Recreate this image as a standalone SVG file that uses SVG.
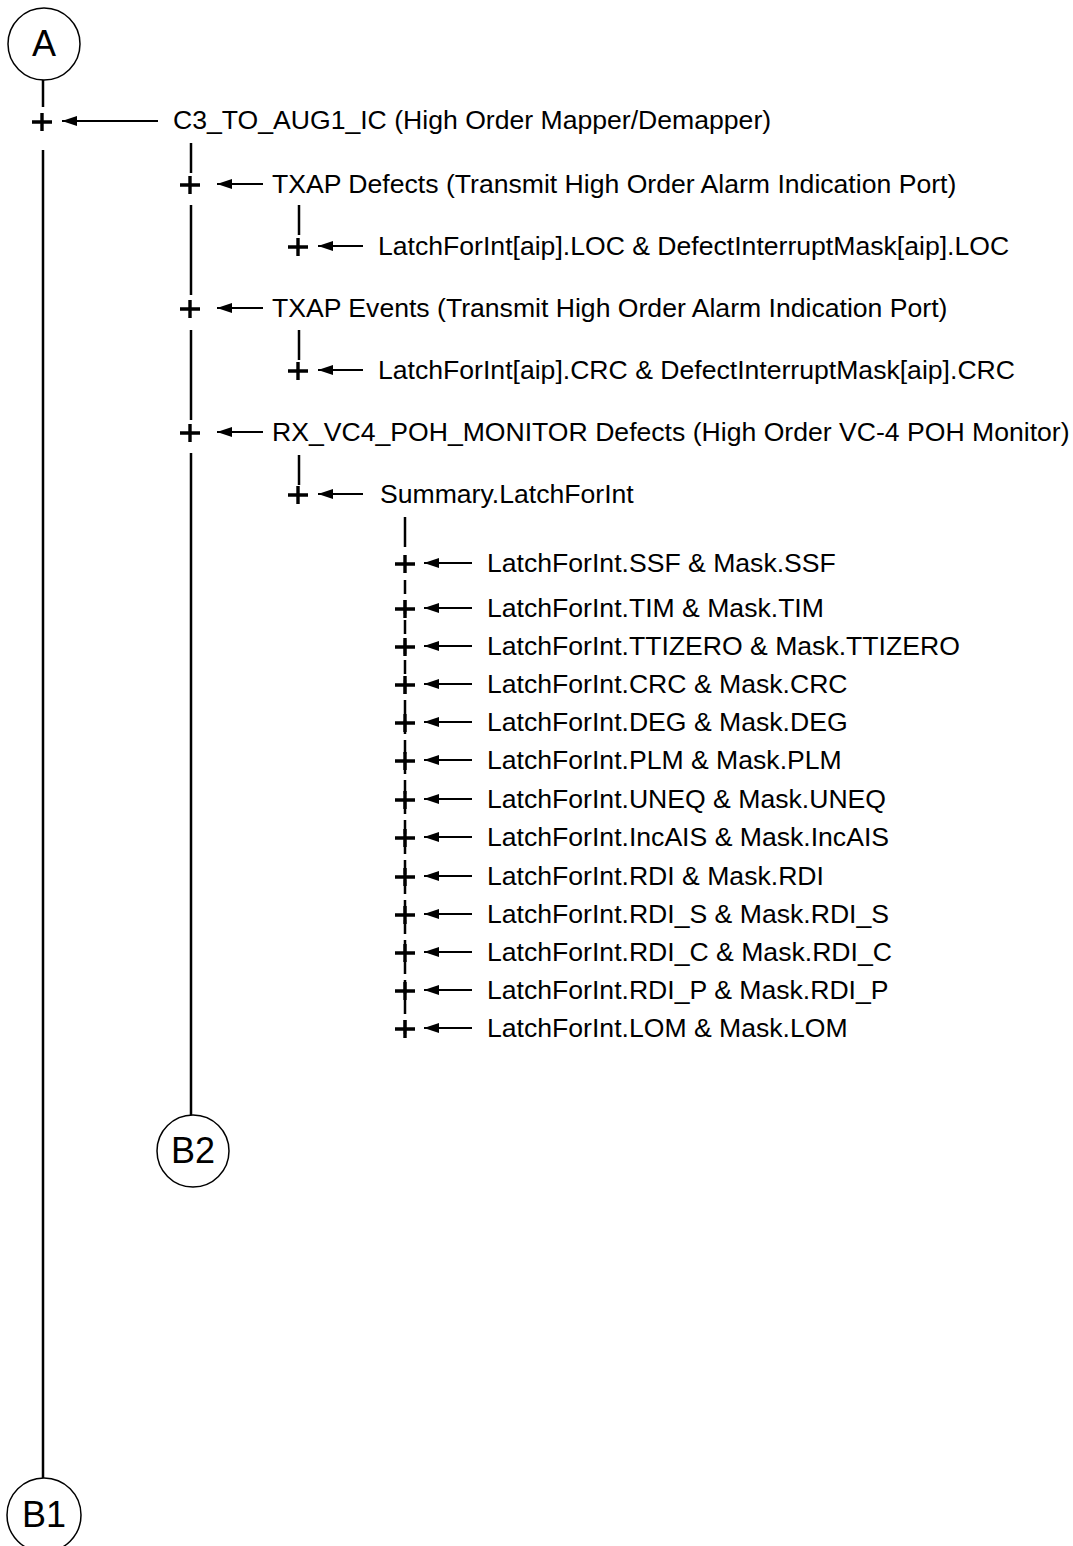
<svg xmlns="http://www.w3.org/2000/svg" width="1073" height="1546" viewBox="0 0 1073 1546">
<style>
.t{font-family:"Liberation Sans",Arial,sans-serif;font-size:26.6px;fill:#000}
.c{font-family:"Liberation Sans",Arial,sans-serif;font-size:36px;fill:#000;text-anchor:middle}
.ln{stroke:#000;stroke-width:2.5;fill:none}
.dl{stroke:#000;stroke-width:2.5;fill:none;stroke-dasharray:14 6}
.ar{stroke:#000;stroke-width:2;fill:none;marker-end:url(#ah)}
.circ{fill:#fff;stroke:#000;stroke-width:1.5}
</style>
<defs>
<marker id="ah" markerUnits="userSpaceOnUse" markerWidth="16" markerHeight="11" refX="15" refY="5" orient="auto">
<path d="M0,0 L15,5 L0,10 z" fill="#000"/>
</marker>
<path id="plus" d="M-10,0 H10 M0,-9 V9" stroke="#000" stroke-width="3.4" fill="none"/>
</defs>

<g id="connectors">
<line class="ln" x1="43" y1="80" x2="43" y2="107"/>
<line class="ln" x1="43" y1="150" x2="43" y2="1478"/>
<line class="ln" x1="191" y1="143" x2="191" y2="173"/>
<line class="ln" x1="191" y1="205" x2="191" y2="295"/>
<line class="ln" x1="191" y1="330" x2="191" y2="420"/>
<line class="ln" x1="191" y1="453" x2="191" y2="1115"/>
<line class="ln" x1="299" y1="205" x2="299" y2="235"/>
<line class="ln" x1="299" y1="330" x2="299" y2="360"/>
<line class="ln" x1="299" y1="455" x2="299" y2="485"/>
<line class="ln" x1="405" y1="517" x2="405" y2="547"/>
<line class="dl" x1="405" y1="580" x2="405" y2="1040"/>

<line class="ar" x1="158" y1="121" x2="62" y2="121"/>
<line class="ar" x1="263" y1="184" x2="217" y2="184"/>
<line class="ar" x1="363" y1="246" x2="318" y2="246"/>
<line class="ar" x1="263" y1="308" x2="217" y2="308"/>
<line class="ar" x1="363" y1="370" x2="318" y2="370"/>
<line class="ar" x1="263" y1="432" x2="217" y2="432"/>
<line class="ar" x1="363" y1="494" x2="318" y2="494"/>
<line class="ar" x1="472" y1="563" x2="424" y2="563"/>
<line class="ar" x1="472" y1="608" x2="424" y2="608"/>
<line class="ar" x1="472" y1="646" x2="424" y2="646"/>
<line class="ar" x1="472" y1="684" x2="424" y2="684"/>
<line class="ar" x1="472" y1="722" x2="424" y2="722"/>
<line class="ar" x1="472" y1="760" x2="424" y2="760"/>
<line class="ar" x1="472" y1="799" x2="424" y2="799"/>
<line class="ar" x1="472" y1="837" x2="424" y2="837"/>
<line class="ar" x1="472" y1="876" x2="424" y2="876"/>
<line class="ar" x1="472" y1="914" x2="424" y2="914"/>
<line class="ar" x1="472" y1="952" x2="424" y2="952"/>
<line class="ar" x1="472" y1="990" x2="424" y2="990"/>
<line class="ar" x1="472" y1="1028" x2="424" y2="1028"/>
</g>

<g id="node-A"><circle class="circ" cx="44" cy="44" r="36"/><text class="c" x="44" y="56">A</text></g>
<g id="node-B2"><circle class="circ" cx="193" cy="1151" r="36"/><text class="c" x="193" y="1163">B2</text></g>
<g id="node-B1"><circle class="circ" cx="44" cy="1515" r="37"/><text class="c" x="44" y="1527">B1</text></g>

<g id="node-c3"><use href="#plus" x="42" y="122"/><text class="t" x="173" y="129">C3_TO_AUG1_IC (High Order Mapper/Demapper)</text></g>
<g id="node-txap-def"><use href="#plus" x="190" y="185"/><text class="t" x="272" y="193">TXAP Defects (Transmit High Order Alarm Indication Port)</text></g>
<g id="node-loc"><use href="#plus" x="298" y="247"/><text class="t" x="378" y="255">LatchForInt[aip].LOC &amp; DefectInterruptMask[aip].LOC</text></g>
<g id="node-txap-ev"><use href="#plus" x="190" y="309"/><text class="t" x="272" y="317">TXAP Events (Transmit High Order Alarm Indication Port)</text></g>
<g id="node-crc-aip"><use href="#plus" x="298" y="371"/><text class="t" x="378" y="379">LatchForInt[aip].CRC &amp; DefectInterruptMask[aip].CRC</text></g>
<g id="node-rx"><use href="#plus" x="190" y="433"/><text class="t" x="272" y="441">RX_VC4_POH_MONITOR Defects (High Order VC-4 POH Monitor)</text></g>
<g id="node-summary"><use href="#plus" x="298" y="495"/><text class="t" x="380" y="503">Summary.LatchForInt</text></g>

<g id="node-ssf"><use href="#plus" x="405" y="564"/><text class="t" x="487" y="572">LatchForInt.SSF &amp; Mask.SSF</text></g>
<g id="node-tim"><use href="#plus" x="405" y="609"/><text class="t" x="487" y="617">LatchForInt.TIM &amp; Mask.TIM</text></g>
<g id="node-ttizero"><use href="#plus" x="405" y="647"/><text class="t" x="487" y="655">LatchForInt.TTIZERO &amp; Mask.TTIZERO</text></g>
<g id="node-crc"><use href="#plus" x="405" y="685"/><text class="t" x="487" y="693">LatchForInt.CRC &amp; Mask.CRC</text></g>
<g id="node-deg"><use href="#plus" x="405" y="723"/><text class="t" x="487" y="731">LatchForInt.DEG &amp; Mask.DEG</text></g>
<g id="node-plm"><use href="#plus" x="405" y="761"/><text class="t" x="487" y="769">LatchForInt.PLM &amp; Mask.PLM</text></g>
<g id="node-uneq"><use href="#plus" x="405" y="800"/><text class="t" x="487" y="808">LatchForInt.UNEQ &amp; Mask.UNEQ</text></g>
<g id="node-incais"><use href="#plus" x="405" y="838"/><text class="t" x="487" y="846">LatchForInt.IncAIS &amp; Mask.IncAIS</text></g>
<g id="node-rdi"><use href="#plus" x="405" y="877"/><text class="t" x="487" y="885">LatchForInt.RDI &amp; Mask.RDI</text></g>
<g id="node-rdi-s"><use href="#plus" x="405" y="915"/><text class="t" x="487" y="923">LatchForInt.RDI_S &amp; Mask.RDI_S</text></g>
<g id="node-rdi-c"><use href="#plus" x="405" y="953"/><text class="t" x="487" y="961">LatchForInt.RDI_C &amp; Mask.RDI_C</text></g>
<g id="node-rdi-p"><use href="#plus" x="405" y="991"/><text class="t" x="487" y="999">LatchForInt.RDI_P &amp; Mask.RDI_P</text></g>
<g id="node-lom"><use href="#plus" x="405" y="1029"/><text class="t" x="487" y="1037">LatchForInt.LOM &amp; Mask.LOM</text></g>
</svg>
